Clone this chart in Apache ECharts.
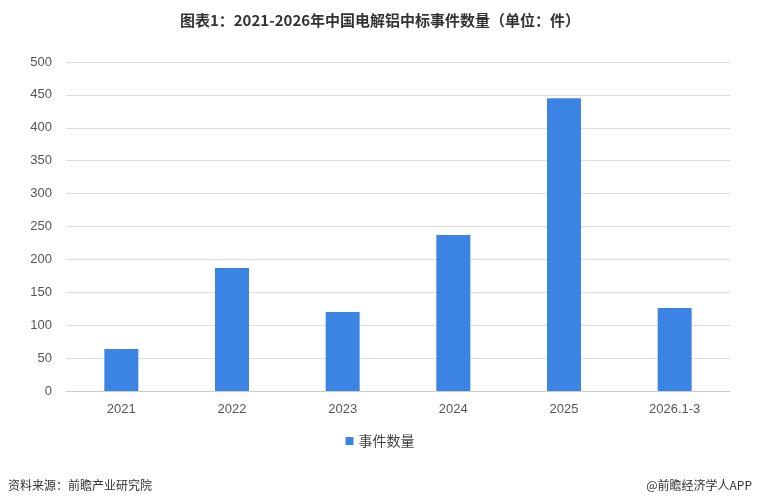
<!DOCTYPE html>
<html><head><meta charset="utf-8">
<script src="https://cdn.jsdelivr.net/npm/echarts@6/dist/echarts.min.js"></script>
<style>html,body{margin:0;padding:0;background:#fff}#c{width:760px;height:501px}</style>
</head><body><div id="c"></div>
<script>
const categories = ['2021','2022','2023','2024','2025','2026.1-3'];
const eventCounts = [64, 187, 120, 237, 445, 126];
const yTicks = [0,50,100,150,200,250,300,350,400,450,500];
const seriesName = '事件数量';
const chart = echarts.init(document.getElementById('c'));
chart.setOption({
  animation:false,
  title:{text:'图表1：2021-2026年中国电解铝中标事件数量（单位：件）',left:'center',top:8,
    textStyle:{fontSize:15,fontWeight:'bold',color:'#333',fontFamily:'Noto Sans CJK SC'}},
  grid:{left:66,right:30,top:62,bottom:110},
  legend:{data:[seriesName],bottom:48,itemWidth:8,itemHeight:8,icon:'rect',
    textStyle:{fontSize:14,color:'#444',fontFamily:'Noto Sans CJK SC'}},
  xAxis:{type:'category',data:categories,axisTick:{show:false},
    axisLine:{lineStyle:{color:'#ccc'}},axisLabel:{fontSize:13,color:'#555',margin:12}},
  yAxis:{type:'value',min:yTicks[0],max:yTicks[yTicks.length-1],interval:50,
    axisLabel:{fontSize:13,color:'#555',margin:14},splitLine:{lineStyle:{color:'#ddd'}}},
  series:[{name:seriesName,type:'bar',data:eventCounts,barWidth:34,itemStyle:{color:'#3b84e3'}}],
  graphic:[
    {type:'text',left:8,bottom:10,style:{text:'资料来源：前瞻产业研究院',fontSize:12,fill:'#333',fontFamily:'Noto Sans CJK SC'}},
    {type:'text',right:8,bottom:10,style:{text:'@前瞻经济学人APP',fontSize:12,fill:'#333',fontFamily:'Noto Sans CJK SC'}}
  ]
});
</script></body></html>
